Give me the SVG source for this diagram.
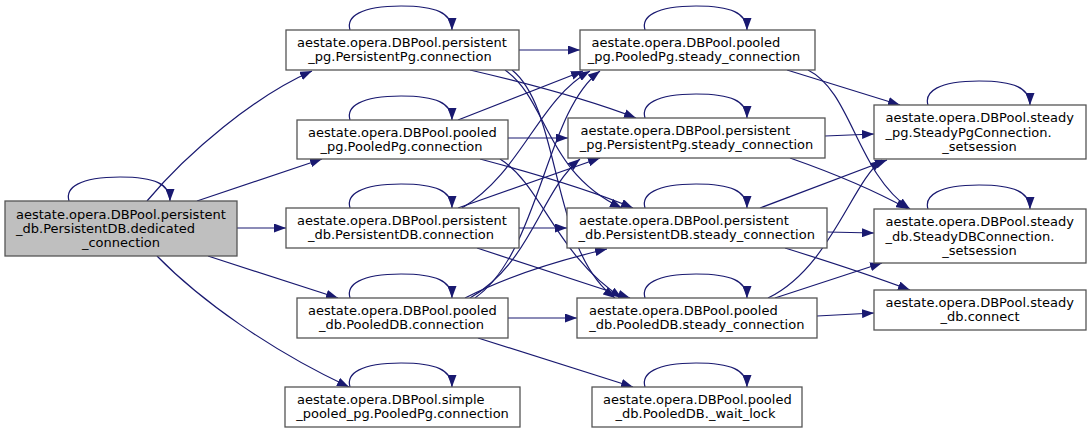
<svg xmlns="http://www.w3.org/2000/svg" width="1091" height="433" viewBox="0 0 1091 433">
<defs>
<style>
.n rect{fill:#ffffff;stroke:#555555;stroke-width:1.3}
.n.root rect{fill:#bfbfbf}
text{font-family:"DejaVu Sans","Liberation Sans",sans-serif;font-size:13px;fill:#000}
.m{text-anchor:middle}
#edges path{fill:none;stroke:#191970;stroke-width:1.2;marker-end:url(#ah)}
</style>
<marker id="ah" viewBox="0 0 12 9" markerWidth="12" markerHeight="9" refX="12" refY="4.5" orient="auto" markerUnits="userSpaceOnUse">
<path d="M0,0 L12,4.5 L0,9 z" fill="#191970"/>
</marker>
</defs>
<rect x="0" y="0" width="1091" height="433" fill="#ffffff"/>
<g id="edges">
<!-- self loops -->
<path d="M69,201 C65,188 79,177 120,177 C155,177 170,184 170,201"/>
<path d="M350,30 C346,17 360,6 401,6 C436,6 452,13 452,30"/>
<path d="M350,120 C346,107 360,96 401,96 C436,96 452,103 452,120"/>
<path d="M350,208 C346,195 360,184 401,184 C436,184 452,191 452,208"/>
<path d="M350,298 C346,285 360,274 401,274 C436,274 452,281 452,298"/>
<path d="M350,387 C346,374 360,363 401,363 C436,363 452,370 452,387"/>
<path d="M645,30 C641,17 655,6 696,6 C731,6 747,13 747,30"/>
<path d="M645,118 C641,105 655,94 696,94 C731,94 747,101 747,118"/>
<path d="M645,208 C641,195 655,184 696,184 C731,184 747,191 747,208"/>
<path d="M645,298 C641,285 655,274 696,274 C731,274 747,281 747,298"/>
<path d="M645,387 C641,374 655,363 696,363 C731,363 747,370 747,387"/>
<path d="M928,105 C924,92 938,81 979,81 C1014,81 1030,88 1030,105"/>
<path d="M928,209 C924,196 938,185 979,185 C1014,185 1030,192 1030,209"/>
<!-- root -->
<path d="M147,201 C188,152 255,96 312,71"/>
<path d="M197,201 L322,159"/>
<path d="M237,228 L286,228"/>
<path d="M208,256 L338,298"/>
<path d="M157,256 C200,300 270,350 349,387"/>
<!-- persistent_pg connection -->
<path d="M519,50 L580,50"/>
<path d="M470,70 C530,84 590,100 636,118"/>
<path d="M505,70 C548,100 545,172 622,208"/>
<path d="M512,70 C562,110 550,250 615,298"/>
<!-- pooled_pg connection -->
<path d="M458,120 L583,71"/>
<path d="M508,138 L568,138"/>
<path d="M480,159 C540,175 590,190 633,208"/>
<path d="M500,159 C542,185 556,255 622,298"/>
<!-- persistent_db connection -->
<path d="M462,208 C522,172 538,100 590,71"/>
<path d="M458,208 L600,158"/>
<path d="M519,228 L567,228"/>
<path d="M477,248 L630,298"/>
<!-- pooled_db connection -->
<path d="M475,298 C540,252 545,112 600,71"/>
<path d="M470,298 C532,262 540,192 580,159"/>
<path d="M465,298 C510,275 560,260 607,249"/>
<path d="M508,318 L577,318"/>
<path d="M478,338 L633,387"/>
<!-- steady connections -->
<path d="M787,70 L900,105"/>
<path d="M808,70 C852,92 856,172 910,209"/>
<path d="M825,136 L874,134"/>
<path d="M790,158 C830,172 870,188 908,209"/>
<path d="M760,208 L887,160"/>
<path d="M827,232 L874,233"/>
<path d="M785,248 C830,262 870,275 910,290"/>
<path d="M768,298 C830,268 852,182 882,160"/>
<path d="M775,298 L882,263"/>
<path d="M817,316 L874,313"/>
</g>
<g id="node-root" class="n root">
<rect x="5" y="201" width="232" height="55"/>
<text x="16" y="218.5">aestate.opera.DBPool.persistent</text>
<text x="16" y="232.8">_db.PersistentDB.dedicated</text>
<text x="121" y="247" class="m">_connection</text>
</g>
<g id="node-persistent-pg-connection" class="n">
<rect x="286" y="30" width="233" height="40"/>
<text x="297" y="46.8">aestate.opera.DBPool.persistent</text>
<text x="400" y="61" class="m">_pg.PersistentPg.connection</text>
</g>
<g id="node-pooled-pg-connection" class="n">
<rect x="297" y="120" width="211" height="39"/>
<text x="308" y="136.5">aestate.opera.DBPool.pooled</text>
<text x="401.5" y="150.7" class="m">_pg.PooledPg.connection</text>
</g>
<g id="node-persistent-db-connection" class="n">
<rect x="286" y="208" width="233" height="40"/>
<text x="297" y="224.8">aestate.opera.DBPool.persistent</text>
<text x="401" y="239" class="m">_db.PersistentDB.connection</text>
</g>
<g id="node-pooled-db-connection" class="n">
<rect x="297" y="298" width="211" height="40"/>
<text x="308" y="314.8">aestate.opera.DBPool.pooled</text>
<text x="401.5" y="329" class="m">_db.PooledDB.connection</text>
</g>
<g id="node-simple-pooled-pg-connection" class="n">
<rect x="285" y="387" width="235" height="40"/>
<text x="297" y="403.8">aestate.opera.DBPool.simple</text>
<text x="402.5" y="418" class="m">_pooled_pg.PooledPg.connection</text>
</g>
<g id="node-pooled-pg-steady" class="n">
<rect x="580" y="30" width="235" height="40"/>
<text x="591.5" y="46.8">aestate.opera.DBPool.pooled</text>
<text x="694" y="61" class="m">_pg.PooledPg.steady_connection</text>
</g>
<g id="node-persistent-pg-steady" class="n">
<rect x="568" y="118" width="257" height="40"/>
<text x="580.5" y="134.8">aestate.opera.DBPool.persistent</text>
<text x="696.5" y="149" class="m">_pg.PersistentPg.steady_connection</text>
</g>
<g id="node-persistent-db-steady" class="n">
<rect x="567" y="208" width="260" height="40"/>
<text x="579" y="224.8">aestate.opera.DBPool.persistent</text>
<text x="696.7" y="239" class="m">_db.PersistentDB.steady_connection</text>
</g>
<g id="node-pooled-db-steady" class="n">
<rect x="577" y="298" width="240" height="40"/>
<text x="589" y="314.8">aestate.opera.DBPool.pooled</text>
<text x="696.8" y="329" class="m">_db.PooledDB.steady_connection</text>
</g>
<g id="node-pooled-db-wait-lock" class="n">
<rect x="592" y="387" width="210" height="40"/>
<text x="603" y="403.8">aestate.opera.DBPool.pooled</text>
<text x="695.5" y="418" class="m">_db.PooledDB._wait_lock</text>
</g>
<g id="node-steady-pg-setsession" class="n">
<rect x="874" y="105" width="212" height="54"/>
<text x="885.5" y="122.2">aestate.opera.DBPool.steady</text>
<text x="885.5" y="136.5">_pg.SteadyPgConnection.</text>
<text x="979.5" y="150.5" class="m">_setsession</text>
</g>
<g id="node-steady-db-setsession" class="n">
<rect x="874" y="209" width="212" height="54"/>
<text x="885.5" y="226.2">aestate.opera.DBPool.steady</text>
<text x="885.5" y="240.5">_db.SteadyDBConnection.</text>
<text x="979.5" y="254.5" class="m">_setsession</text>
</g>
<g id="node-steady-db-connect" class="n">
<rect x="874" y="290" width="212" height="40"/>
<text x="885.5" y="306.8">aestate.opera.DBPool.steady</text>
<text x="980" y="321" class="m">_db.connect</text>
</g>
</svg>
